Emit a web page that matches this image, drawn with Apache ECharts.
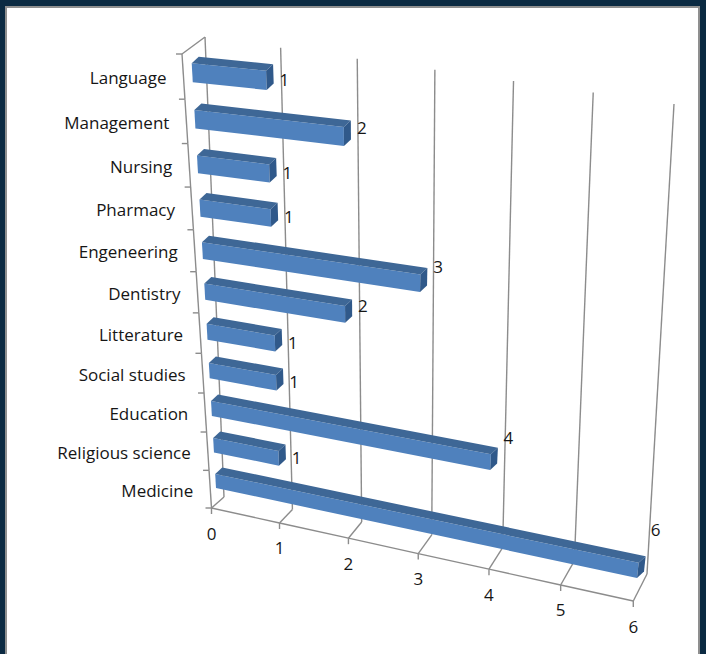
<!DOCTYPE html>
<html><head><meta charset="utf-8">
<script src="https://cdn.jsdelivr.net/npm/echarts@6/dist/echarts.min.js"></script>
<style>
html,body{margin:0;padding:0;width:706px;height:654px;background:#0b2a42;overflow:hidden}
#frame{position:absolute;left:5px;top:6px;width:695px;height:660px;background:#fff;border:2px solid #8f8f8f;box-sizing:border-box}
#chart{position:absolute;left:0;top:0;width:706px;height:654px}
</style></head><body>
<div id="frame"></div>
<div id="chart"></div>
<script>
// ---- data ----
const categories = ['Medicine','Religious science','Education','Social studies','Litterature','Dentistry','Engeneering','Pharmacy','Nursing','Management','Language'];
const values = [6,1,4,1,1,2,3,1,1,2,1];
const valueTicks = [0,1,2,3,4,5,6];

// ---- projection calibration (screen corners of the 3D box planes) ----
const CAL_BACK  = [[224,497],[647,574],[205,37],[674,104]];
const CAL_FRONT = [[211.5,508],[633.3,601],[182,54],[649,137]];
const CAL_BAR   = [[216,488],[637,578],[191.7,63.3],[266.7,90]];
const BAR_LO = 0.3, BAR_HI = 0.7;
const BAR_DEPTH = [7,-6.5];
const FONT = 'Open Sans';
const FS = 17;
const TXT = '#161616';
const LINE = '#8c8c8c';

const N = categories.length;
const VMAX = valueTicks[valueTicks.length-1];

function solveH(src, dst){
  const A=[],B=[];
  for(let k=0;k<4;k++){const x=src[k][0],y=src[k][1],u=dst[k][0],v=dst[k][1];
    A.push([x,y,1,0,0,0,-x*u,-y*u]);B.push(u);
    A.push([0,0,0,x,y,1,-x*v,-y*v]);B.push(v);}
  const n=8;
  for(let i=0;i<n;i++){let m=i;for(let r=i+1;r<n;r++)if(Math.abs(A[r][i])>Math.abs(A[m][i]))m=r;
    let t=A[i];A[i]=A[m];A[m]=t;t=B[i];B[i]=B[m];B[m]=t;
    for(let r=0;r<n;r++){if(r===i)continue;const f=A[r][i]/A[i][i];for(let c=i;c<n;c++)A[r][c]-=f*A[i][c];B[r]-=f*B[i];}}
  const h=B.map((b,i)=>b/A[i][i]);
  return p=>{const w=h[6]*p[0]+h[7]*p[1]+1;return [(h[0]*p[0]+h[1]*p[1]+h[2])/w,(h[3]*p[0]+h[4]*p[1]+h[5])/w];};
}
function gp(api, v, c){
  const i=Math.min(N-1,Math.max(0,Math.floor(c)));
  const p=api.coord([v,i]); const bw=api.size([0,1])[1];
  return [p[0], p[1]-(c-i-0.5)*bw];
}
function proj(api){
  const S=(v,c)=>gp(api,v,c);
  const corners=[S(0,0),S(VMAX,0),S(0,N),S(VMAX,N)];
  const hb=solveH(corners,CAL_BACK), hf=solveH(corners,CAL_FRONT);
  const hbar=solveH([S(0,BAR_LO),S(VMAX,BAR_LO),S(0,N-1+BAR_HI),S(1,N-1+BAR_LO)],CAL_BAR);
  return {back:(v,c)=>hb(S(v,c)), front:(v,c)=>hf(S(v,c)), bar:(v,c)=>hbar(S(v,c))};
}
const lineStyle={stroke:LINE,lineWidth:1.4,fill:null};
function seg(a,b){return {type:'line',shape:{x1:a[0],y1:a[1],x2:b[0],y2:b[1]},style:lineStyle};}
function txt(t,x,y,align){return {type:'text',style:{text:t,x:x,y:y,align:align,verticalAlign:'middle',font:FS+'px '+FONT,fill:TXT}};}

function renderValueTick(params, api){
  const P=proj(api); const v=api.value(0);
  const ch=[];
  ch.push(seg(P.back(v,0),P.back(v,N)));         // back wall gridline
  const f=P.front(v,0);
  ch.push(seg(f,P.back(v,0)));                    // floor depth line
  ch.push(seg(f,[f[0],f[1]+6]));                  // tick
  if(v>0){ch.push(seg(P.front(v-1,0),f));}        // floor front edge
  ch.push(txt(String(v),f[0],f[1]+25,'center'));
  return {type:'group',children:ch};
}
function renderCategory(params, api){
  const P=proj(api); const i=api.value(1);
  const ch=[];
  const a=P.front(0,i), b=P.front(0,i+1);
  ch.push(seg(a,b));
  ch.push(seg(a,[a[0]-6,a[1]]));
  if(i===N-1){ch.push(seg(b,[b[0]-6,b[1]])); ch.push(seg(b,P.back(0,N)));}
  const m=P.front(0,i+0.5);
  ch.push(txt(categories[i],m[0]-17,m[1]+1,'right'));
  return {type:'group',children:ch};
}
function renderBar(params, api){
  const P=proj(api); const v=api.value(0), i=api.value(1);
  const c0=i+BAR_LO, c1=i+BAR_HI;
  const a=P.bar(0,c0), b=P.bar(v,c0), c=P.bar(v,c1), d=P.bar(0,c1);
  const sh=p=>[p[0]+BAR_DEPTH[0],p[1]+BAR_DEPTH[1]];
  const m=P.bar(v,i+0.5);
  return {type:'group',children:[
    {type:'polygon',shape:{points:[a,b,c,d]},style:{fill:'#4f81bd'}},
    {type:'polygon',shape:{points:[d,c,sh(c),sh(d)]},style:{fill:'#3e6796'}},
    {type:'polygon',shape:{points:[b,c,sh(c),sh(b)]},style:{fill:'#30598a'}},
    txt(String(v),m[0]+BAR_DEPTH[0]+6,m[1]+7-8*v,'left')
  ]};
}

const chart=echarts.init(document.getElementById('chart'),null,{renderer:'svg'});
chart.setOption({
  animation:false,
  backgroundColor:'transparent',
  grid:{left:100,top:40,width:500,height:460},
  xAxis:{type:'value',min:0,max:VMAX,interval:1,show:false},
  yAxis:{type:'category',data:categories,show:false},
  series:[
    {type:'custom',clip:false,z:1,renderItem:renderValueTick,data:valueTicks.map(v=>[v,0]),encode:{x:0,y:1}},
    {type:'custom',clip:false,z:1,renderItem:renderCategory,data:categories.map((c,i)=>[0,i]),encode:{x:0,y:1}},
    {type:'custom',clip:false,z:2,renderItem:renderBar,data:values.map((v,i)=>[v,i]),encode:{x:0,y:1}}
  ]
});
</script>
</body></html>
